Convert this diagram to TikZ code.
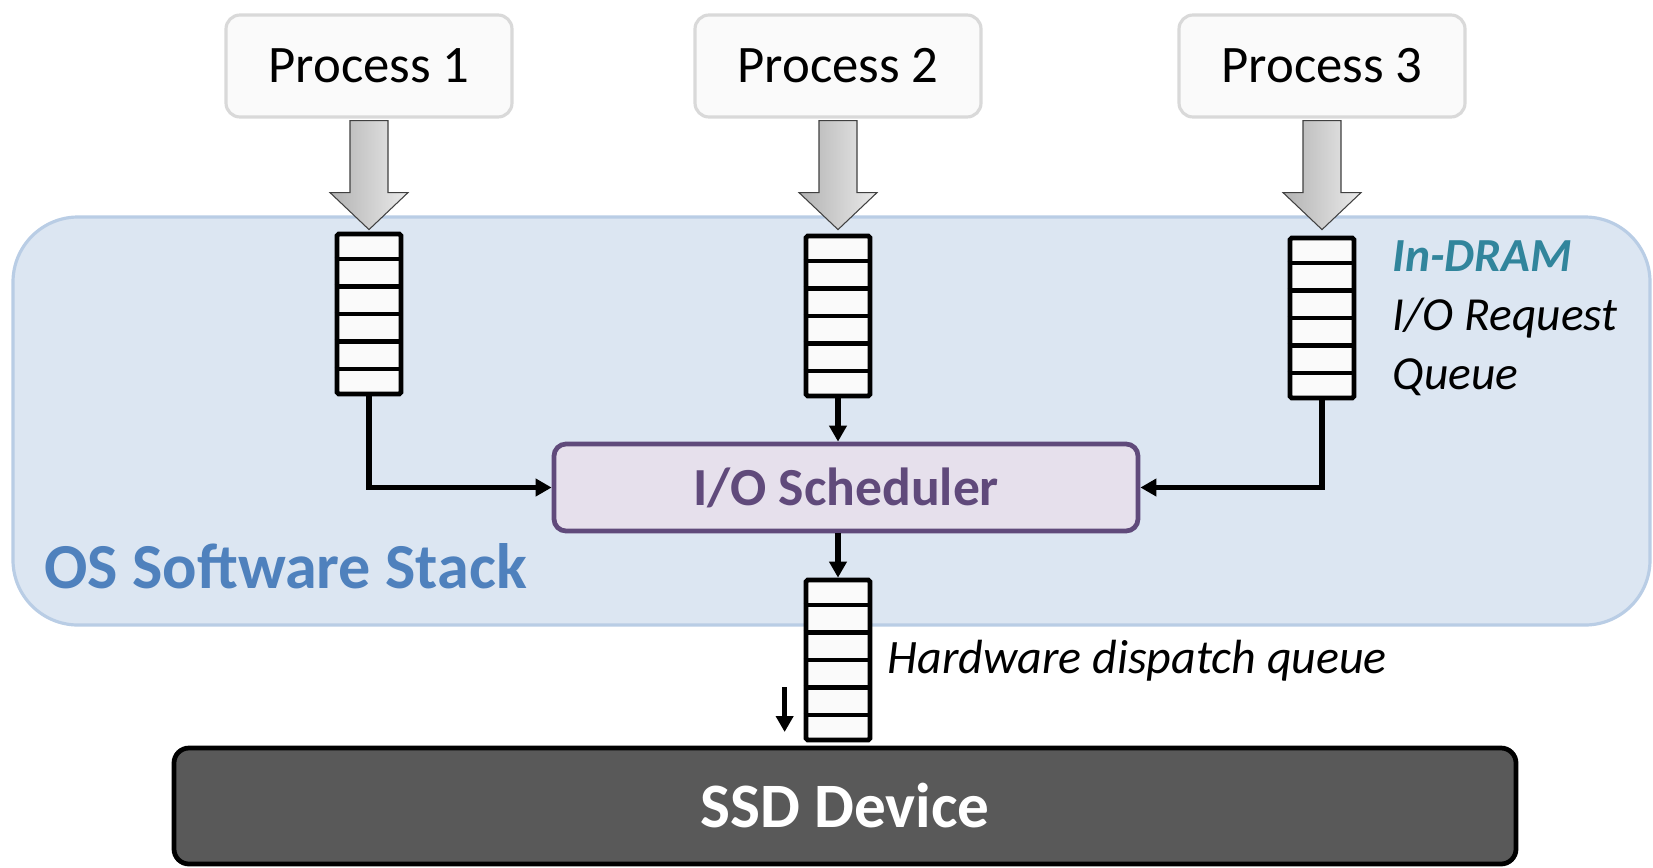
\documentclass[tikz,border=0pt]{standalone}
\usepackage{fontspec}
\setmainfont{Carlito}
\usetikzlibrary{arrows.meta,positioning,calc}
\definecolor{stackfill}{RGB}{220,230,242}
\definecolor{stackline}{RGB}{185,205,229}
\definecolor{stackblue}{RGB}{79,129,189}
\definecolor{dramteal}{RGB}{49,133,156}
\definecolor{schedpurple}{RGB}{96,74,123}
\definecolor{schedfill}{RGB}{230,224,236}
\definecolor{procline}{RGB}{217,217,217}
\definecolor{cellwhite}{RGB}{250,250,250}
\definecolor{ssdgray}{RGB}{89,89,89}

\begin{document}
\begin{tikzpicture}[
    proc/.style={draw=procline, line width=1.8pt, fill=cellwhite, rounded corners=0.28cm, minimum width=5.72cm, minimum height=2.04cm, font=\fontsize{30}{36}\selectfont},
    queue/.style={draw, line width=2.7pt, fill=cellwhite, rounded corners=1pt, minimum width=1.28cm, minimum height=3.2cm, inner sep=0pt},
    sched/.style={draw=schedpurple, line width=2.7pt, fill=schedfill, rounded corners=0.24cm, minimum width=11.68cm, minimum height=1.74cm, text=schedpurple, font=\fontsize{30.5}{36}\selectfont\bfseries},
    ssd/.style={draw, line width=2.7pt, fill=ssdgray, rounded corners=0.3cm, minimum width=26.84cm, minimum height=2.32cm, text=white, font=\fontsize{36}{42}\selectfont\bfseries},
    bigarr/.style={draw=black!75, line width=0.6pt, left color=black!30, right color=black!8},
    arr/.style={-{Triangle[length=0.32cm,width=0.34cm]}, line width=3pt}
]
\useasboundingbox (0,0) rectangle (33.06,-17.34);

% OS software stack
\draw[draw=stackline, line width=1.8pt, fill=stackfill, rounded corners=1.3cm] (0.26,-4.34) rectangle (33.0,-12.5);
\node[anchor=base west, text=stackblue, font=\fontsize{36.5}{42}\selectfont\bfseries] (oslabel) at (0.76,-11.76) {OS Software Stack};

% processes and their request queues
\node[proc] (p1) at (7.38,-1.32) {Process 1};
\node[proc] (p2) at (16.76,-1.32) {Process 2};
\node[proc] (p3) at (26.44,-1.32) {Process 3};

\node[queue, below=2.26cm of p1] (q1) {};
\node[queue, below=2.3cm of p2] (q2) {};
\node[queue, below=2.34cm of p3] (q3) {};

\foreach \i in {1,2,3}
  \draw[bigarr] ([xshift=-0.38cm,yshift=-0.04cm]p\i.south) -- ++(0,-1.44) -- ++(-0.4,0) -- ++(0.78,-0.74) -- ++(0.78,0.74) -- ++(-0.4,0) -- ++(0,1.44) -- cycle;

\node[right=0.6cm of q3, align=left, font=\fontsize{27}{33.5}\selectfont\itshape] (dramlabel) {\textcolor{dramteal}{\bfseries In-DRAM}\\I/O Request\\Queue};

% scheduler, dispatch queue, device
\node[sched] (sched) at (16.92,-9.75) {I/O Scheduler};
\node[queue] (hwq) at (16.76,-13.2) {};
\node[anchor=base west, font=\fontsize{27.3}{32}\selectfont\itshape] (hwlabel) at ([xshift=0.18cm,yshift=-0.26cm]hwq.east) {Hardware dispatch queue};
\node[ssd] (ssd) at (16.9,-16.12) {SSD Device};

% queue slots
\foreach \q in {q1,q2,q3,hwq}
  \foreach \k in {1,...,5}
    \draw[line width=2.7pt] ($(\q.north west)!\k/6!(\q.south west)$) -- ($(\q.north east)!\k/6!(\q.south east)$);

\draw[arr] (q1.south) |- (sched.west);
\draw[arr] (q3.south) |- (sched.east);
\draw[arr] (q2.south) -- (q2.south |- sched.north);
\draw[arr] (hwq.north |- sched.south) -- (hwq.north);

\coordinate (outtop) at ([xshift=-0.38cm,yshift=-0.54cm]hwq.west);
\coordinate (outbot) at ([xshift=-0.38cm,yshift=-1.44cm]hwq.west);
\draw[arr] (outtop) -- (outbot);
\end{tikzpicture}
\end{document}
